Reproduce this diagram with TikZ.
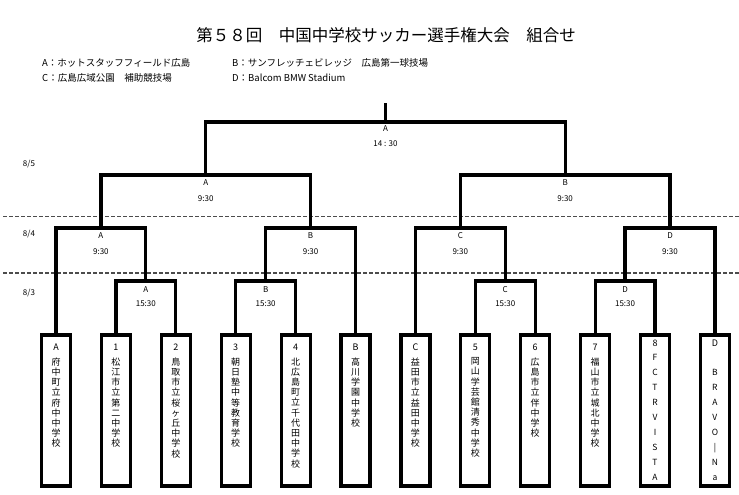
\documentclass[tikz,border=0pt]{standalone}
\usepackage{fontspec}
\setmainfont{Noto Sans CJK JP}
\begin{document}
\begin{tikzpicture}[x=1pt,y=-1pt,
  tbox/.style={draw, line width=3.2pt, minimum width=29pt, minimum height=151pt, anchor=north, inner sep=0pt, outer sep=0pt},
  br/.style={line width=3.2pt},
  dsh/.style={draw=black!70, line width=1.3pt, dash pattern=on 4pt off 2pt},
  lbl/.style={font=\fontsize{8}{9}\selectfont, inner sep=0pt},
  tag/.style={font=\fontsize{9}{10}\selectfont, inner sep=0pt},
  vt/.style={font=\fontsize{9}{10.2}\selectfont, align=center, inner sep=0pt, anchor=north},
  vl/.style={font=\fontsize{8.5}{15}\selectfont, align=center, inner sep=0pt, anchor=north},
  leg/.style={font=\fontsize{9.5}{11}\selectfont, inner sep=0pt, anchor=west},
  date/.style={font=\fontsize{8}{9}\selectfont, inner sep=0pt}]
\useasboundingbox (0,0) rectangle (739,495);
% title and legend
\node[font=\fontsize{16.5}{18}\selectfont, inner sep=0pt] (title) at (386,35) {第５８回　中国中学校サッカー選手権大会　組合せ};
\node[leg] (legA) at (42,63) {A：ホットスタッフフィールド広島};
\node[leg] (legB) at (232,63) {B：サンフレッチェビレッジ　広島第一球技場};
\node[leg] (legC) at (42,78) {C：広島広域公園　補助競技場};
\node[leg] (legD) at (232,78) {D：Balcom BMW Stadium};
% dates and dashed separators
\node[date] (d5) at (29,164) {8/5};
\node[date] (d4) at (29,234) {8/4};
\node[date] (d3) at (29,293) {8/3};
\coordinate (s1l) at (3,216.5); \coordinate (s1r) at (739,216.5);
\coordinate (s2l) at (3,273);   \coordinate (s2r) at (739,273);
\draw[dsh] (s1l) -- (s1r);
\draw[dsh] (s2l) -- (s2r);
% team boxes
\foreach \i in {1,...,12} {
  \node[tbox] (b\i) at ({56+59.9*(\i-1)},335) {};
}
% box labels
\node[tag] (t1) at (b1.north |- 0,347) {A};
\node[tag] (t2) at (b2.north |- 0,347) {1};
\node[tag] (t3) at (b3.north |- 0,347) {2};
\node[tag] (t4) at (b4.north |- 0,347) {3};
\node[tag] (t5) at (b5.north |- 0,347) {4};
\node[tag] (t6) at (b6.north |- 0,347) {B};
\node[tag] (t7) at (b7.north |- 0,347) {C};
\node[tag] (t8) at (b8.north |- 0,347) {5};
\node[tag] (t9) at (b9.north |- 0,347) {6};
\node[tag] (t10) at (b10.north |- 0,347) {7};
\node[tag] (t11) at (b11.north |- 0,343) {8};
\node[tag] (t12) at (b12.north |- 0,343) {D};
% vertical names
\node[vt] (n1) at (b1.north |- 0,357.5) {府\\中\\町\\立\\府\\中\\中\\学\\校};
\node[vt] (n2) at (b2.north |- 0,357.5) {松\\江\\市\\立\\第\\二\\中\\学\\校};
\node[vt] (n3) at (b3.north |- 0,357.5) {鳥\\取\\市\\立\\桜\\ヶ\\丘\\中\\学\\校};
\node[vt] (n4) at (b4.north |- 0,357.5) {朝\\日\\塾\\中\\等\\教\\育\\学\\校};
\node[vt] (n5) at (b5.north |- 0,357.5) {北\\広\\島\\町\\立\\千\\代\\田\\中\\学\\校};
\node[vt] (n6) at (b6.north |- 0,357.5) {高\\川\\学\\園\\中\\学\\校};
\node[vt] (n7) at (b7.north |- 0,357.5) {益\\田\\市\\立\\益\\田\\中\\学\\校};
\node[vt] (n8) at (b8.north |- 0,357.5) {岡\\山\\学\\芸\\館\\清\\秀\\中\\学\\校};
\node[vt] (n9) at (b9.north |- 0,357.5) {広\\島\\市\\立\\伴\\中\\学\\校};
\node[vt] (n10) at (b10.north |- 0,357.5) {福\\山\\市\\立\\城\\北\\中\\学\\校};
\node[vl] (n11) at (b11.north |- 0,354.5) {F\\C\\T\\R\\V\\I\\S\\T\\A};
\node[vl] (n12) at (b12.north |- 0,369.5) {B\\R\\A\\V\\O\\|\\N\\a};
% bracket junctions
\coordinate (r1A) at (145.85,281);
\coordinate (r1B) at (265.65,281);
\coordinate (r1C) at (505.25,281);
\coordinate (r1D) at (625.05,281);
\coordinate (qA) at (100.9,228);
\coordinate (qB) at (310.6,228);
\coordinate (qC) at (460.3,228);
\coordinate (qD) at (670.0,228);
\coordinate (sL) at (205.75,175);
\coordinate (sR) at (565.15,175);
\coordinate (fin) at (385.45,122);
\coordinate (top) at (385.45,103);
% round 1
\draw[br] (b2.north) |- (r1A) -| (b3.north);
\draw[br] (b4.north) |- (r1B) -| (b5.north);
\draw[br] (b8.north) |- (r1C) -| (b9.north);
\draw[br] (b10.north) |- (r1D) -| (b11.north);
% quarter finals
\draw[br] (b1.north) |- (qA) -| (r1A);
\draw[br] (r1B) |- (qB) -| (b6.north);
\draw[br] (b7.north) |- (qC) -| (r1C);
\draw[br] (r1D) |- (qD) -| (b12.north);
% semis and final
\draw[br] (qA) |- (sL) -| (qB);
\draw[br] (qC) |- (sR) -| (qD);
\draw[br] (sL) |- (fin) -| (sR);
\draw[br] (fin) -- (top);
% match labels
\node[lbl] (lr1A) at ([yshift=-9pt]r1A) {A};  \node[lbl] (tr1A) at ([yshift=-23pt]r1A) {15:30};
\node[lbl] (lr1B) at ([yshift=-9pt]r1B) {B};  \node[lbl] (tr1B) at ([yshift=-23pt]r1B) {15:30};
\node[lbl] (lr1C) at ([yshift=-9pt]r1C) {C};  \node[lbl] (tr1C) at ([yshift=-23pt]r1C) {15:30};
\node[lbl] (lr1D) at ([yshift=-9pt]r1D) {D};  \node[lbl] (tr1D) at ([yshift=-23pt]r1D) {15:30};
\node[lbl] (lqA) at ([yshift=-8pt]qA) {A};  \node[lbl] (tqA) at ([yshift=-24pt]qA) {9:30};
\node[lbl] (lqB) at ([yshift=-8pt]qB) {B};  \node[lbl] (tqB) at ([yshift=-24pt]qB) {9:30};
\node[lbl] (lqC) at ([yshift=-8pt]qC) {C};  \node[lbl] (tqC) at ([yshift=-24pt]qC) {9:30};
\node[lbl] (lqD) at ([yshift=-8pt]qD) {D};  \node[lbl] (tqD) at ([yshift=-24pt]qD) {9:30};
\node[lbl] (lsL) at ([yshift=-8pt]sL) {A};  \node[lbl] (tsL) at ([yshift=-24pt]sL) {9:30};
\node[lbl] (lsR) at ([yshift=-8pt]sR) {B};  \node[lbl] (tsR) at ([yshift=-24pt]sR) {9:30};
\node[lbl] (lfin) at ([yshift=-7pt]fin) {A}; \node[lbl] (tfin) at ([yshift=-22pt]fin) {14 : 30};
\end{tikzpicture}
\end{document}
